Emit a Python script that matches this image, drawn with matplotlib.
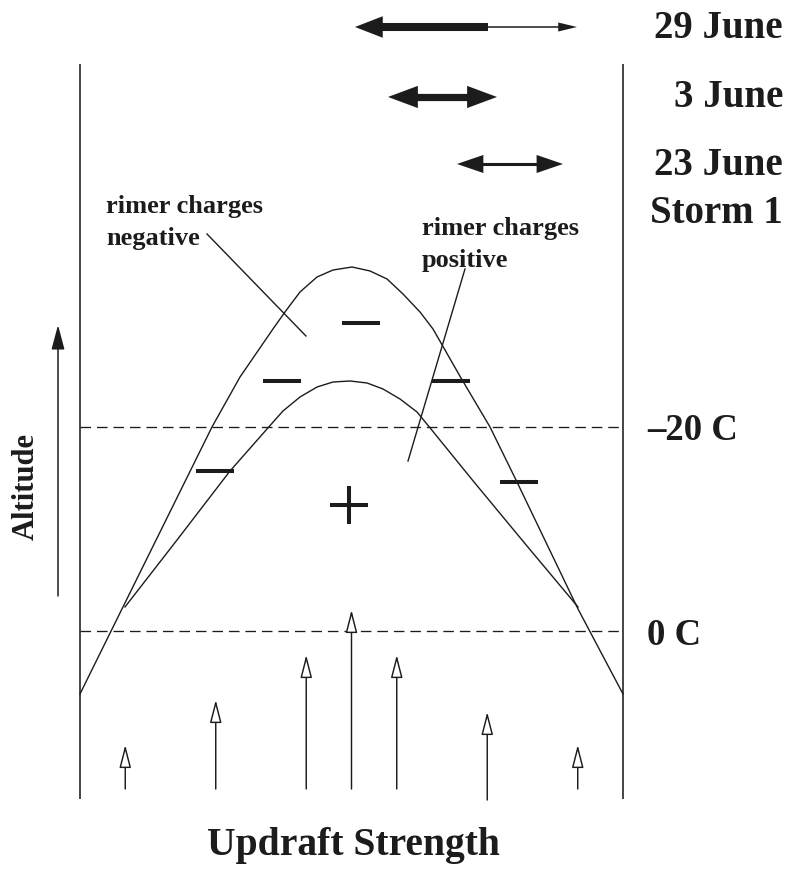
import matplotlib
matplotlib.use("Agg")
import matplotlib.pyplot as plt
from matplotlib.patches import FancyArrowPatch

plt.rcParams['font.family'] = ['Liberation Serif', 'DejaVu Serif']
plt.rcParams['font.weight'] = 'bold'

# ---------------- data (updraft units on x, altitude units on y; 0 C at y=0, -20 C at y=4)
frame_x = [0.0, 12.0]
frame_y = [-3.29, 11.12]
isotherm_levels = [0.0, 4.0]
isotherm_labels = ["0 C", "\u201320 C"]

outer_x = [0.000, 0.818, 2.917, 3.536, 4.265, 4.530, 4.862, 5.238, 5.591, 6.011,
           6.409, 6.785, 7.138, 7.514, 7.801, 8.420, 9.061, 9.657, 11.006, 12.000]
outer_y = [-1.235, 0.235, 4.000, 4.980, 5.922, 6.255, 6.647, 6.941, 7.078, 7.137,
           7.059, 6.902, 6.608, 6.255, 5.922, 4.961, 4.000, 2.922, 0.431, -1.235]

inner_x = [0.994, 2.144, 3.315, 4.133, 4.486, 4.862, 5.238, 5.591, 5.967, 6.343,
           6.696, 7.072, 7.448, 7.720, 8.707, 9.878, 11.006]
inner_y = [0.471, 1.784, 3.137, 3.961, 4.314, 4.588, 4.784, 4.882, 4.902, 4.863,
           4.745, 4.549, 4.294, 4.000, 2.922, 1.667, 0.471]

minus_x = [6.21, 4.46, 8.20, 2.98, 9.71]
minus_y = [6.04, 4.90, 4.90, 3.14, 2.92]
plus_x = [5.945]
plus_y = [2.471]

updraft_x = [1, 3, 5, 6, 7, 9, 11]
updraft_tip = [-2.235, -1.353, -0.471, 0.412, -0.471, -1.588, -2.235]
updraft_base = [-3.098, -3.098, -3.098, -3.098, -3.098, -3.314, -3.098]

storm_names = ["29 June", "3 June", "23 June"]
storm_row = [11.843, 10.471, 9.157]
storm_lo = [6.077, 6.807, 8.331]
storm_mid = [9.017, 8.011, 9.500]
storm_hi = [10.983, 9.215, 10.674]

leader_neg = ([2.807, 4.994], [7.784, 5.784])
leader_pos = ([8.508, 7.249], [7.098, 3.333])

altitude_arrow_x = -0.486
altitude_arrow_y = [0.686, 6.0]

# ---------------- figure
W, H = 790, 870
fig = plt.figure(figsize=(W / 100, H / 100), dpi=100)
ax = fig.add_axes([0, 0, 1, 1])
XL = (-1.768, 15.691)
ax.set_xlim(*XL)
ax.set_ylim(-4.667, 12.392)
ax.axis('off')

ink = '#1c1c1c'
pt_per_xunit = W * 0.72 / (XL[1] - XL[0])

# frame verticals
for fx in frame_x:
    ax.plot([fx, fx], frame_y, color=ink, lw=1.15, solid_capstyle='butt')

# isotherms
for lv in isotherm_levels:
    ax.plot(frame_x, [lv, lv], color=ink, lw=0.95, linestyle=(0, (8, 4.5)))

# curves
ax.plot(outer_x, outer_y, color=ink, lw=1.0, solid_joinstyle='round')
ax.plot(inner_x, inner_y, color=ink, lw=1.0, solid_joinstyle='round')

# charge signs
ax.plot(minus_x, minus_y, linestyle='none', marker='_', markersize=27,
        markeredgewidth=2.9, color=ink)
ax.plot(plus_x, plus_y, linestyle='none', marker='+', markersize=27,
        markeredgewidth=2.9, color=ink)

# leader lines
ax.plot(*leader_neg, color=ink, lw=1.0)
ax.plot(*leader_pos, color=ink, lw=1.0)

# updraft arrows (open heads)
for x, t, b in zip(updraft_x, updraft_tip, updraft_base):
    ax.annotate('', xy=(x, t), xytext=(x, b),
                arrowprops=dict(arrowstyle='-|>,head_length=14,head_width=3.6',
                                mutation_scale=1, fc='white', ec=ink, lw=1.05,
                                shrinkA=0, shrinkB=0))

# altitude arrow
ax.annotate('', xy=(altitude_arrow_x, altitude_arrow_y[1]),
            xytext=(altitude_arrow_x, altitude_arrow_y[0]),
            arrowprops=dict(arrowstyle='-|>,head_length=15,head_width=4',
                            mutation_scale=1, fc=ink, ec=ink, lw=1.1,
                            shrinkA=0, shrinkB=0))

# storm updraft ranges (top arrows): shaft line + filled heads
def head(tip, direction, y, hl, hw):
    back = hl / pt_per_xunit * 1.25
    p = FancyArrowPatch((tip - direction * back, y), (tip, y),
                        arrowstyle=f'simple,head_length={hl},head_width={hw},tail_width=0.01',
                        mutation_scale=1, color=ink, lw=0, shrinkA=0, shrinkB=0)
    ax.add_patch(p)

def shaft(x0, x1, y, tw, hl0=0.0, hl1=0.0):
    a = x0 + 0.7 * hl0 / pt_per_xunit
    b = x1 - 0.7 * hl1 / pt_per_xunit
    ax.plot([a, b], [y, y], color=ink, lw=tw, solid_capstyle='butt')

# 29 June: thick part to the left, thin part to the right
shaft(storm_mid[0], storm_hi[0], storm_row[0], 1.1, 0, 13.5)
shaft(storm_lo[0], storm_mid[0], storm_row[0], 5.8, 20, 0)
head(storm_lo[0], -1, storm_row[0], 20, 15.5)
head(storm_hi[0], 1, storm_row[0], 13.5, 6.5)
# 3 June (double headed)
shaft(storm_lo[1], storm_hi[1], storm_row[1], 5.2, 21.5, 21.5)
head(storm_lo[1], -1, storm_row[1], 21.5, 16)
head(storm_hi[1], 1, storm_row[1], 21.5, 16)
# 23 June (double headed)
shaft(storm_lo[2], storm_hi[2], storm_row[2], 2.2, 19, 19)
head(storm_lo[2], -1, storm_row[2], 19, 13)
head(storm_hi[2], 1, storm_row[2], 19, 13)

# ---------------- text (positions in figure pixels)
def fp(x, y):
    return x / W, 1 - y / H

big = 28
fig.text(*fp(783, 38), storm_names[0], ha='right', va='baseline', fontsize=big, color=ink)
fig.text(*fp(783, 107), storm_names[1], ha='right', va='baseline', fontsize=big, color=ink)
fig.text(*fp(783, 175), storm_names[2], ha='right', va='baseline', fontsize=big, color=ink)
fig.text(*fp(783, 223), "Storm 1", ha='right', va='baseline', fontsize=big, color=ink)

fig.text(*fp(647, 440), isotherm_labels[1], ha='left', va='baseline', fontsize=26.5, color=ink)
fig.text(*fp(647, 645), isotherm_labels[0], ha='left', va='baseline', fontsize=26.5, color=ink)

fig.text(*fp(26, 486), "Altitude", rotation=90, ha='center', va='center', fontsize=22, color=ink)
fig.text(*fp(353, 855), "Updraft Strength", ha='center', va='baseline', fontsize=28.5, color=ink)

small = 19
fig.text(*fp(106, 213), "rimer charges", ha='left', va='baseline', fontsize=small, color=ink)
fig.text(*fp(106, 245), "negative", ha='left', va='baseline', fontsize=small, color=ink)
fig.text(*fp(422, 235), "rimer charges", ha='left', va='baseline', fontsize=small, color=ink)
fig.text(*fp(422, 267), "positive", ha='left', va='baseline', fontsize=small, color=ink)

fig.savefig("out.png", dpi=100, facecolor='white')
